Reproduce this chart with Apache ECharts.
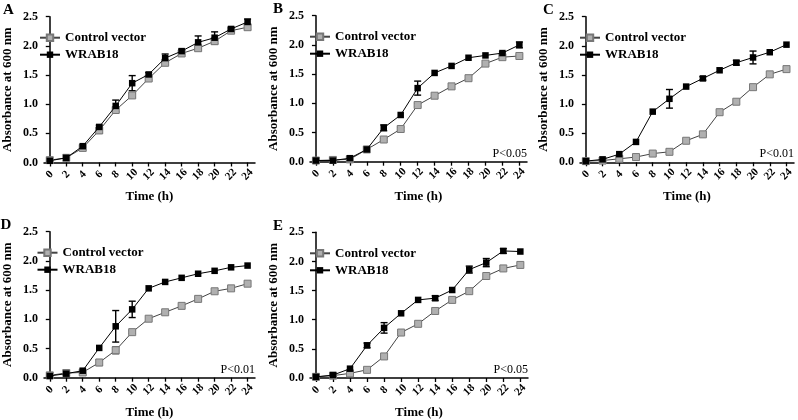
<!DOCTYPE html>
<html>
<head>
<meta charset="utf-8">
<script src="https://cdn.jsdelivr.net/npm/echarts@6/dist/echarts.min.js"></script>
<style>
  html, body { margin: 0; padding: 0; background: #fff; }
  #chart { width: 798px; height: 420px; }
</style>
</head>
<body>
<div id="chart"></div>
<script>
// 时间点 (h)
const hours = [0, 2, 4, 6, 8, 10, 12, 14, 16, 18, 20, 22, 24];
const yTicks = [0, 0.5, 1.0, 1.5, 2.0, 2.5];

// A
const ctrlA = [0.04, 0.08, 0.25, 0.55, 0.90, 1.15, 1.44, 1.71, 1.87, 1.96, 2.08, 2.26, 2.32];
const wrabA = [0.03, 0.08, 0.28, 0.61, 0.97, 1.36, 1.51, 1.79, 1.91, 2.06, 2.14, 2.29, 2.41];
const ctrlErrA = [0, 0, 0.02, 0.05, 0.04, 0.03, 0.03, 0.03, 0.02, 0.04, 0.05, 0.03, 0.04];
const wrabErrA = [0, 0, 0.02, 0.03, 0.10, 0.13, 0.03, 0.07, 0.03, 0.11, 0.10, 0.03, 0.05];
// B
const ctrlB = [0.02, 0.03, 0.04, 0.21, 0.38, 0.56, 0.97, 1.13, 1.29, 1.43, 1.68, 1.79, 1.81];
const wrabB = [0.02, 0.02, 0.06, 0.21, 0.58, 0.80, 1.26, 1.52, 1.64, 1.78, 1.82, 1.86, 2.00];
const ctrlErrB = [0, 0, 0, 0, 0.02, 0.03, 0.03, 0, 0, 0.02, 0.03, 0.02, 0.02];
const wrabErrB = [0, 0, 0, 0, 0.05, 0, 0.12, 0, 0, 0, 0, 0.02, 0.05];
// C
const ctrlC = [0.02, 0.03, 0.06, 0.09, 0.15, 0.18, 0.37, 0.48, 0.86, 1.04, 1.29, 1.51, 1.60];
const wrabC = [0.02, 0.05, 0.14, 0.35, 0.87, 1.09, 1.30, 1.44, 1.58, 1.71, 1.80, 1.89, 2.02];
const ctrlErrC = [0, 0, 0, 0, 0.03, 0, 0, 0.02, 0, 0, 0, 0, 0.03];
const wrabErrC = [0, 0, 0, 0, 0, 0.16, 0, 0.03, 0, 0.04, 0.11, 0, 0];
// D
const ctrlD = [0.04, 0.08, 0.09, 0.26, 0.47, 0.78, 1.01, 1.12, 1.23, 1.35, 1.48, 1.53, 1.61];
const wrabD = [0.03, 0.07, 0.12, 0.51, 0.88, 1.17, 1.53, 1.64, 1.71, 1.78, 1.83, 1.89, 1.92];
const ctrlErrD = [0, 0, 0, 0.05, 0.06, 0.02, 0, 0, 0, 0, 0, 0, 0];
const wrabErrD = [0, 0, 0, 0, 0.27, 0.14, 0, 0, 0, 0, 0, 0, 0];
// E
const ctrlE = [0.02, 0.04, 0.08, 0.14, 0.37, 0.78, 0.93, 1.15, 1.34, 1.49, 1.75, 1.88, 1.94];
const wrabE = [0.02, 0.05, 0.16, 0.56, 0.86, 1.11, 1.34, 1.37, 1.51, 1.86, 1.98, 2.18, 2.17];
const ctrlErrE = [0, 0, 0, 0, 0, 0.02, 0, 0.03, 0.03, 0, 0, 0, 0];
const wrabErrE = [0, 0, 0, 0.04, 0.09, 0, 0, 0.04, 0, 0.06, 0.07, 0.04, 0];

const panels = [
  { tag: 'A', ctrl: ctrlA, wrab: wrabA, ce: ctrlErrA, we: wrabErrA, p: '' },
  { tag: 'B', ctrl: ctrlB, wrab: wrabB, ce: ctrlErrB, we: wrabErrB, p: 'P<0.05' },
  { tag: 'C', ctrl: ctrlC, wrab: wrabC, ce: ctrlErrC, we: wrabErrC, p: 'P<0.01' },
  { tag: 'D', ctrl: ctrlD, wrab: wrabD, ce: ctrlErrD, we: wrabErrD, p: 'P<0.01' },
  { tag: 'E', ctrl: ctrlE, wrab: wrabE, ce: ctrlErrE, we: wrabErrE, p: 'P<0.05' }
];

// 每个面板的位置
const boxes = [
  { left: 40, top: 16.7, width: 215, height: 145.8 },
  { left: 310, top: 15.7, width: 217, height: 146 },
  { left: 580, top: 16.7, width: 214, height: 145.6 },
  { left: 37.5, top: 231.7, width: 217.5, height: 146 },
  { left: 310, top: 232.3, width: 218, height: 145.7 }
];

const FONT = "'Liberation Serif', 'DejaVu Serif', serif";
const CTRL_LINE = '#444';
const CTRL_FILL = '#b0b0b0';
const CTRL_BORDER = '#777';

function errBar(color) {
  return function (params, api) {
    const x = api.value(0), y = api.value(1), e = api.value(2);
    if (!e) return null;
    const t = api.coord([x, y + e]);
    const b = api.coord([x, y - e]);
    const hw = 3.5;
    const st = { stroke: color, lineWidth: 1.4 };
    return {
      type: 'group',
      children: [
        { type: 'line', shape: { x1: t[0], y1: t[1], x2: b[0], y2: b[1] }, style: st },
        { type: 'line', shape: { x1: t[0] - hw, y1: t[1], x2: t[0] + hw, y2: t[1] }, style: st },
        { type: 'line', shape: { x1: b[0] - hw, y1: b[1], x2: b[0] + hw, y2: b[1] }, style: st }
      ]
    };
  };
}

const grid = [], xAxis = [], yAxis = [], series = [], legend = [], graphic = [];

panels.forEach((p, i) => {
  const box = boxes[i];
  grid.push(Object.assign({ containLabel: false }, box));

  xAxis.push({
    type: 'value', gridIndex: i, min: -0.7, max: 24.9,
    name: 'Time (h)', nameLocation: 'middle', nameGap: 28,
    nameTextStyle: { fontFamily: FONT, fontWeight: 'bold', fontSize: 13, color: '#000' },
    splitLine: { show: false },
    axisLine: { onZero: false, lineStyle: { color: '#000', width: 1.5 } },
    axisTick: { show: true, length: 4, customValues: hours, lineStyle: { color: '#000', width: 1.3 } },
    axisLabel: {
      customValues: hours, rotate: 45, align: 'center', verticalAlign: 'middle', margin: 12,
      hideOverlap: false,
      fontFamily: FONT, fontWeight: 'bold', fontSize: 11, color: '#000'
    }
  });

  yAxis.push({
    type: 'value', gridIndex: i, min: 0, max: 2.5, interval: 0.5,
    name: 'Absorbance at 600 nm', nameLocation: 'middle', nameGap: 30,
    nameTextStyle: { fontFamily: FONT, fontWeight: 'bold', fontSize: 13, color: '#000' },
    splitLine: { show: false },
    axisLine: { show: true, lineStyle: { color: '#000', width: 1.5 } },
    axisTick: { show: true, length: 4, lineStyle: { color: '#000', width: 1.3 } },
    axisLabel: {
      margin: 6, fontFamily: FONT, fontWeight: 'bold', fontSize: 12, color: '#000',
      formatter: v => v.toFixed(1)
    }
  });

  series.push({
    name: 'ctrl-err-' + p.tag, type: 'custom', xAxisIndex: i, yAxisIndex: i,
    renderItem: errBar('#444'), encode: { x: 0, y: 1 }, z: 2,
    data: hours.map((h, k) => [h, p.ctrl[k], p.ce[k]])
  });
  series.push({
    name: 'wrab-err-' + p.tag, type: 'custom', xAxisIndex: i, yAxisIndex: i,
    renderItem: errBar('#000'), encode: { x: 0, y: 1 }, z: 2,
    data: hours.map((h, k) => [h, p.wrab[k], p.we[k]])
  });
  series.push({
    name: 'Control vector', type: 'line', xAxisIndex: i, yAxisIndex: i,
    symbol: 'rect', symbolSize: 7, z: 3, animation: false,
    lineStyle: { color: CTRL_LINE, width: 1 },
    itemStyle: { color: CTRL_FILL, borderColor: CTRL_BORDER, borderWidth: 1 },
    data: hours.map((h, k) => [h, p.ctrl[k]])
  });
  series.push({
    name: 'WRAB18', type: 'line', xAxisIndex: i, yAxisIndex: i,
    symbol: 'rect', symbolSize: 6.5, z: 4, animation: false,
    lineStyle: { color: '#000', width: 1 },
    itemStyle: { color: '#000' },
    data: hours.map((h, k) => [h, p.wrab[k]])
  });

  legend.push({
    data: ['Control vector', 'WRAB18'], orient: 'vertical',
    left: box.left - 1, top: box.top + 14, padding: 0,
    itemWidth: 20, itemHeight: 8, itemGap: 3,
    textStyle: { fontFamily: FONT, fontWeight: 'bold', fontSize: 13, color: '#000', lineHeight: 14 }
  });

  // 面板字母
  graphic.push({
    type: 'text', left: box.left - 37, top: box.top - 14,
    style: { text: p.tag, font: 'bold 15px ' + FONT, fill: '#000' }
  });
  if (p.p) {
    graphic.push({
      type: 'text', right: 798 - (box.left + box.width), top: box.top + box.height - 14,
      style: { text: p.p, font: '12px ' + FONT, fill: '#000' }
    });
  }
});

const chart = echarts.init(document.getElementById('chart'));
chart.setOption({
  backgroundColor: '#fff',
  animation: false,
  grid, xAxis, yAxis, series, legend, graphic
});
</script>
</body>
</html>
